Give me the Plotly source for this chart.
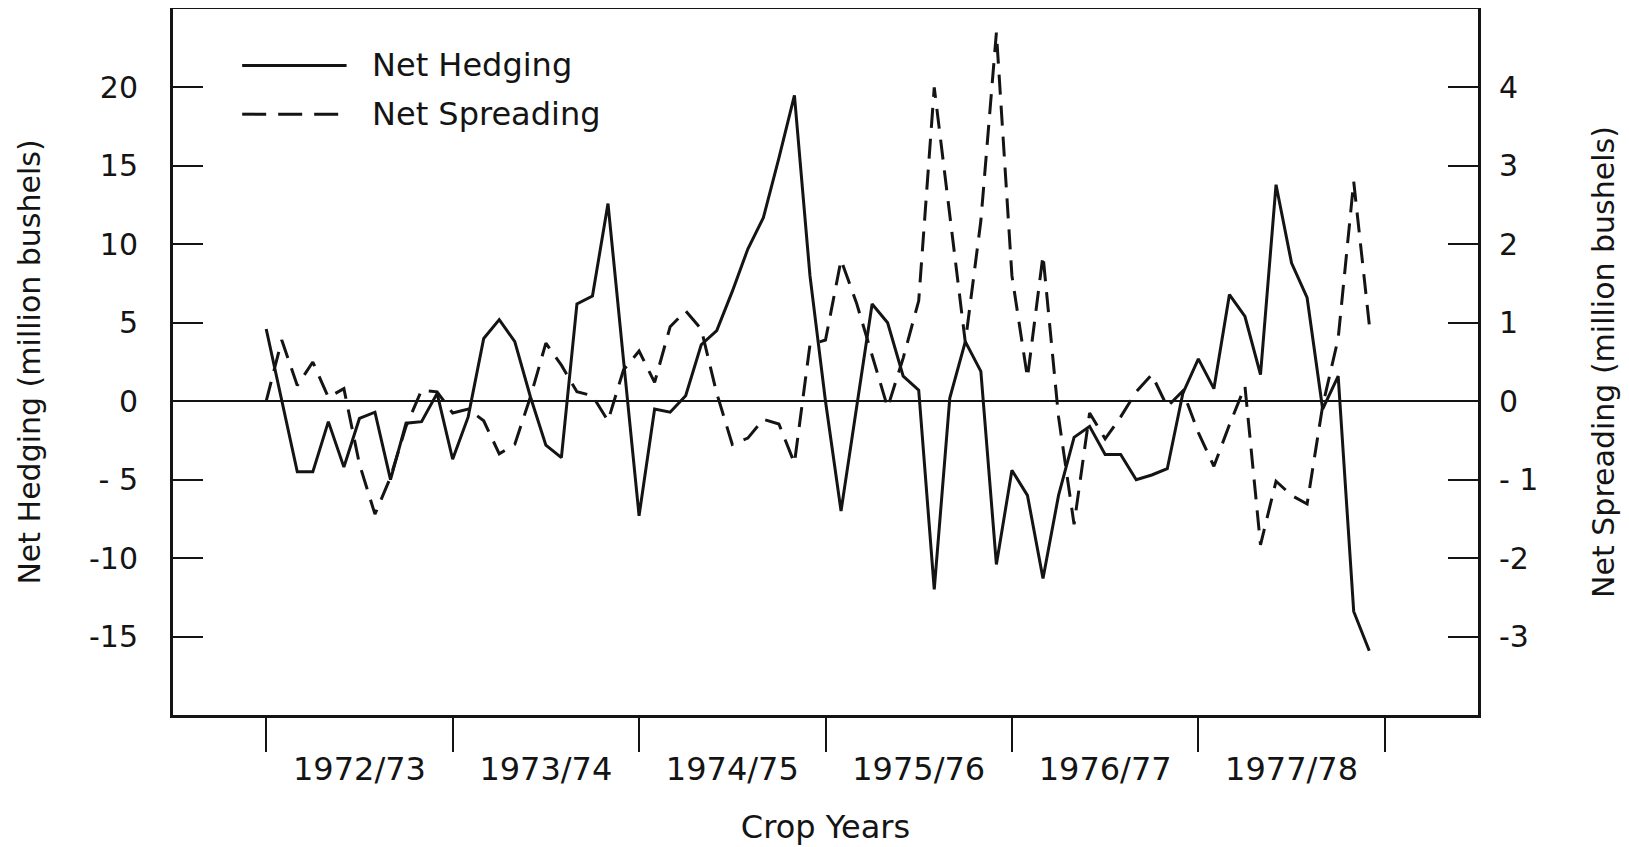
import plotly.graph_objects as go

# ---- data ----
crop_years = ["1972/73", "1973/74", "1974/75", "1975/76", "1976/77", "1977/78"]
year_boundaries = [0, 12, 24, 36, 48, 60, 72]
year_centers = [6, 18, 30, 42, 54, 66]
month_index = list(range(72))

# Net Hedging, million bushels (left axis)
net_hedging = [
    4.6, 0.0, -4.5, -4.5, -1.3, -4.2, -1.1, -0.7, -5.0, -1.4, -1.3, 0.5,
    -3.7, -1.0, 4.0, 5.2, 3.8, 0.3, -2.8, -3.6, 6.2, 6.7, 12.6, 2.6,
    -7.3, -0.5, -0.7, 0.35, 3.6, 4.5, 7.0, 9.7, 11.7, 15.5, 19.5, 8.0,
    0.0, -7.0, -0.5, 6.2, 5.0, 1.6, 0.7, -12.0, 0.2, 3.8, 1.9, -10.4,
    -4.4, -6.0, -11.3, -6.0, -2.3, -1.6, -3.4, -3.4, -5.0, -4.7, -4.3, 0.5,
    2.7, 0.8, 6.8, 5.4, 1.7, 13.8, 8.8, 6.6, -0.5, 1.6, -13.4, -15.9,
]

# Net Spreading, million bushels (right axis)
net_spreading = [
    0.0, 0.78, 0.2, 0.5, 0.05, 0.16, -0.8, -1.44, -0.97, -0.32, 0.14, 0.12,
    -0.15, -0.1, -0.25, -0.67, -0.55, 0.05, 0.74, 0.46, 0.12, 0.07, -0.25, 0.4,
    0.64, 0.24, 0.95, 1.15, 0.92, 0.1, -0.55, -0.47, -0.23, -0.29, -0.79, 0.72,
    0.78, 1.8, 1.25, 0.6, -0.08, 0.55, 1.28, 4.0, 2.4, 0.75, 2.3, 4.7,
    1.6, 0.3, 1.86, -0.2, -1.57, -0.15, -0.48, -0.2, 0.12, 0.34, -0.07, 0.13,
    -0.4, -0.83, -0.3, 0.19, -1.83, -1.02, -1.2, -1.31, -0.06, 0.8, 2.8, 0.98,
]

hedging_ticks = [-15, -10, -5, 0, 5, 10, 15, 20]
hedging_ticktext = ["-15", "-10", "- 5", "0", "5", "10", "15", "20"]
spreading_ticks = [-3, -2, -1, 0, 1, 2, 3, 4]
spreading_ticktext = ["-3", "-2", "- 1", "0", "1", "2", "3", "4"]

INK = "#141414"
FONT = "DejaVu Sans"

fig = go.Figure()
fig.add_trace(go.Scatter(
    x=month_index, y=net_hedging, mode="lines", name="Net Hedging",
    line=dict(color=INK, width=3), yaxis="y",
))
fig.add_trace(go.Scatter(
    x=month_index, y=net_spreading, mode="lines", name="Net Spreading",
    line=dict(color=INK, width=3, dash="20px,11px"), yaxis="y2",
))

# the page body adds an 8px offset, so the figure is 8px smaller than the window
fig.update_layout(
    width=1621, height=839,
    margin=dict(l=165, r=151, t=1, b=132),
    paper_bgcolor="white", plot_bgcolor="white",
    showlegend=False,
    font=dict(family=FONT, color=INK),
    xaxis=dict(
        range=[-6, 78], automargin=False,
        tickmode="array", tickvals=year_centers, ticktext=crop_years,
        ticks="", tickfont=dict(size=32, family=FONT, color=INK),
        ticklabelstandoff=24,
        minor=dict(tickmode="array", tickvals=year_boundaries, ticks="outside",
                   ticklen=34, tickwidth=2.2, tickcolor=INK, showgrid=False),
        showline=True, mirror=True, linecolor=INK, linewidth=3,
        showgrid=False, zeroline=False,
        title=dict(text="Crop Years", font=dict(size=32, family=FONT, color=INK),
                   standoff=29),
    ),
    yaxis=dict(
        range=[-20, 25], automargin=False,
        tickmode="array", tickvals=hedging_ticks, ticktext=hedging_ticktext,
        ticks="inside", ticklen=30, tickwidth=2.4, tickcolor=INK,
        tickfont=dict(size=30, family=FONT, color=INK),
        ticklabelstandoff=26,
        showline=True, mirror=True, linecolor=INK, linewidth=3,
        showgrid=False,
        zeroline=True, zerolinecolor=INK, zerolinewidth=2,
        title=dict(text="Net Hedging (million bushels)",
                   font=dict(size=30, family=FONT, color=INK), standoff=40),
    ),
    yaxis2=dict(
        range=[-4, 5], overlaying="y", side="right", automargin=False,
        tickmode="array", tickvals=spreading_ticks, ticktext=spreading_ticktext,
        ticks="inside", ticklen=30, tickwidth=2.4, tickcolor=INK,
        tickfont=dict(size=30, family=FONT, color=INK),
        ticklabelstandoff=12,
        showline=True, linecolor=INK, linewidth=3,
        showgrid=False, zeroline=False,
        title=dict(text="Net Spreading (million bushels)",
                   font=dict(size=30, family=FONT, color=INK), standoff=56),
    ),
)

# custom legend (long line samples as in the original)
legend_items = [("Net Hedging", "solid", 0.920), ("Net Spreading", "24px,12px", 0.851)]
for label, dash, ypos in legend_items:
    fig.add_shape(type="line", xref="paper", yref="paper",
                  x0=0.053, x1=0.133, y0=ypos, y1=ypos,
                  line=dict(color=INK, width=3, dash=dash))
    fig.add_annotation(xref="paper", yref="paper", x=0.151, y=ypos,
                       text=label, showarrow=False, xanchor="left", yanchor="middle",
                       font=dict(size=32, family=FONT, color=INK))

fig.write_html("out.html")
